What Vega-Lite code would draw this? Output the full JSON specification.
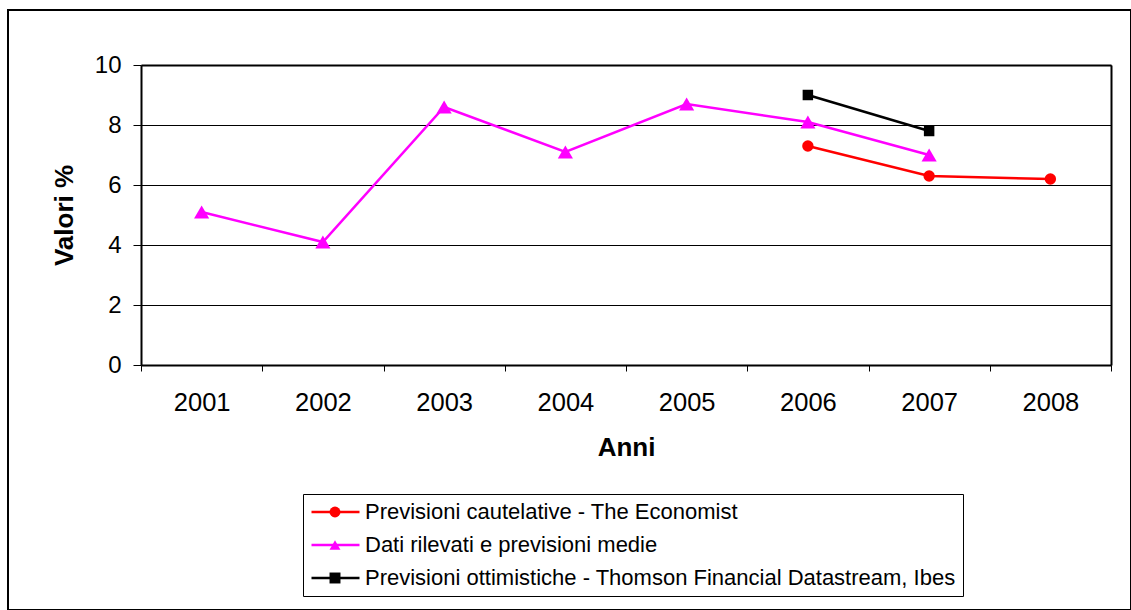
{
  "$schema": "https://vega.github.io/schema/vega-lite/v6.json",
  "width": 1123,
  "height": 600,
  "autosize": {"type": "none"},
  "padding": {"left": 8, "top": 10, "right": 0, "bottom": 0},
  "background": "white",
  "config": {
    "font": "Liberation Sans",
    "view": {"stroke": "black", "strokeWidth": 2},
    "axis": {"labelColor": "black", "titleColor": "black", "tickColor": "black", "domainColor": "black"}
  },
  "data": {
    "values": [
      {"anno": 2001, "valore": 5.1, "serie": "Dati rilevati e previsioni medie"},
      {"anno": 2002, "valore": 4.1, "serie": "Dati rilevati e previsioni medie"},
      {"anno": 2003, "valore": 8.6, "serie": "Dati rilevati e previsioni medie"},
      {"anno": 2004, "valore": 7.1, "serie": "Dati rilevati e previsioni medie"},
      {"anno": 2005, "valore": 8.7, "serie": "Dati rilevati e previsioni medie"},
      {"anno": 2006, "valore": 8.1, "serie": "Dati rilevati e previsioni medie"},
      {"anno": 2007, "valore": 7.0, "serie": "Dati rilevati e previsioni medie"},
      {"anno": 2006, "valore": 7.3, "serie": "Previsioni cautelative - The Economist"},
      {"anno": 2007, "valore": 6.3, "serie": "Previsioni cautelative - The Economist"},
      {"anno": 2008, "valore": 6.2, "serie": "Previsioni cautelative - The Economist"},
      {"anno": 2006, "valore": 9.0, "serie": "Previsioni ottimistiche - Thomson Financial Datastream, Ibes"},
      {"anno": 2007, "valore": 7.8, "serie": "Previsioni ottimistiche - Thomson Financial Datastream, Ibes"}
    ]
  },
  "layer": [
    {
      "mark": {"type": "line", "strokeWidth": 2.5},
      "encoding": {
        "x": {
          "field": "anno",
          "type": "quantitative",
          "scale": {"domain": [2000.5, 2008.5], "range": [133, 1103], "nice": false, "zero": false},
          "axis": {
            "orient": "bottom",
            "offset": -245,
            "values": [2000.5, 2001.5, 2002.5, 2003.5, 2004.5, 2005.5, 2006.5, 2007.5, 2008.5],
            "grid": false,
            "domainWidth": 2,
            "tickSize": 6,
            "tickWidth": 1,
            "labelExpr": "datum.value > 2008 ? '' : format(datum.value + 0.5, 'd')",
            "labelOffset": 60.625,
            "labelFontSize": 25.5,
            "labelPadding": 19,
            "labelOverlap": false,
            "labelBound": false,
            "labelFlush": false,
            "title": "Anni",
            "titleFontSize": 26,
            "titleFontWeight": "bold",
            "titlePadding": 19
          }
        },
        "y": {
          "field": "valore",
          "type": "quantitative",
          "scale": {"domain": [0, 10], "range": [355, 55], "nice": false, "zero": true},
          "axis": {
            "orient": "left",
            "offset": -133,
            "values": [0, 2, 4, 6, 8, 10],
            "grid": true,
            "gridColor": "black",
            "gridWidth": 1,
            "gridOpacity": 1,
            "domainWidth": 2,
            "tickSize": 8,
            "tickWidth": 1,
            "labelFontSize": 24,
            "labelPadding": 12,
            "title": "Valori %",
            "titleFontSize": 26,
            "titleFontWeight": "bold",
            "titlePadding": 17
          }
        },
        "color": {
          "field": "serie",
          "type": "nominal",
          "scale": {
            "domain": ["Previsioni cautelative - The Economist", "Dati rilevati e previsioni medie", "Previsioni ottimistiche - Thomson Financial Datastream, Ibes"],
            "range": ["#FF0000", "#FF00FF", "#000000"]
          },
          "legend": {
            "title": null,
            "orient": "none",
            "direction": "vertical",
            "legendX": 295,
            "legendY": 484,
            "padding": 7,
            "strokeColor": "black",
            "symbolType": "stroke",
            "symbolSize": 2304,
            "symbolStrokeWidth": 2.5,
            "clipHeight": 22,
            "rowPadding": 11,
            "labelOffset": 4,
            "labelFontSize": 22,
            "labelColor": "black",
            "labelLimit": 900
          }
        }
      }
    },
    {
      "mark": {"type": "point", "filled": true, "opacity": 1},
      "encoding": {
        "x": {
          "field": "anno",
          "type": "quantitative",
          "axis": {"orient": "top", "offset": -55, "labels": false, "ticks": false, "grid": false, "domainWidth": 2, "title": null}
        },
        "y": {
          "field": "valore",
          "type": "quantitative",
          "axis": {"orient": "right", "offset": -20, "labels": false, "ticks": false, "grid": false, "domainWidth": 2, "title": null}
        },
        "size": {
          "field": "serie",
          "type": "ordinal",
          "scale": {
            "type": "ordinal",
            "domain": ["Previsioni cautelative - The Economist", "Dati rilevati e previsioni medie", "Previsioni ottimistiche - Thomson Financial Datastream, Ibes"],
            "range": [130, 230, 110]
          },
          "legend": null
        },
        "color": {
          "field": "serie",
          "type": "nominal",
          "legend": {
            "title": null,
            "orient": "none",
            "direction": "vertical",
            "legendX": 309,
            "legendY": 484,
            "padding": 7,
            "symbolSize": 120,
            "symbolStrokeWidth": 0,
            "clipHeight": 22,
            "rowPadding": 11,
            "labelFontSize": 22,
            "labelExpr": "''"
          }
        },
        "shape": {
          "field": "serie",
          "type": "nominal",
          "scale": {
            "domain": ["Previsioni cautelative - The Economist", "Dati rilevati e previsioni medie", "Previsioni ottimistiche - Thomson Financial Datastream, Ibes"],
            "range": ["circle", "triangle-up", "square"]
          },
          "legend": {
            "title": null,
            "orient": "none",
            "direction": "vertical",
            "legendX": 309,
            "legendY": 484,
            "padding": 7,
            "symbolSize": 120,
            "symbolStrokeWidth": 0,
            "clipHeight": 22,
            "rowPadding": 11,
            "labelFontSize": 22,
            "labelExpr": "''"
          }
        }
      }
    }
  ],
  "resolve": {
    "axis": {"x": "independent", "y": "independent"},
    "legend": {"color": "independent", "shape": "independent"}
  }
}
